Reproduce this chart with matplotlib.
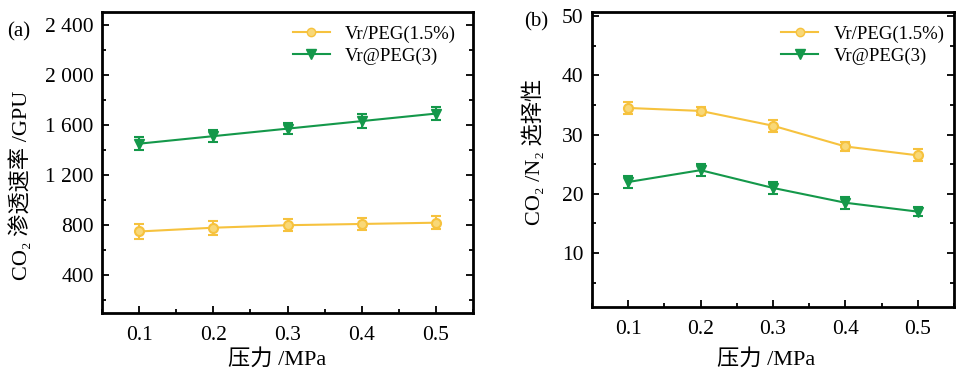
import matplotlib
matplotlib.use("Agg")
import matplotlib.pyplot as plt
from matplotlib.ticker import MultipleLocator, FuncFormatter
from matplotlib.lines import Line2D

plt.rcParams['font.family'] = ['Liberation Serif', 'Noto Sans CJK SC']

pressure = [0.1, 0.2, 0.3, 0.4, 0.5]
series_names = ['Vr/PEG(1.5%)', 'Vr@PEG(3)']

perm_peg = [750, 780, 800, 810, 820]
perm_peg_err = [60, 55, 50, 50, 50]
perm_vr3 = [1450, 1510, 1570, 1630, 1690]
perm_vr3_err = [50, 50, 45, 55, 55]

sel_peg = [34.5, 34.0, 31.5, 28.0, 26.5]
sel_peg_err = [1.0, 0.7, 1.0, 0.8, 1.0]
sel_vr3 = [22.0, 24.0, 21.0, 18.5, 17.0]
sel_vr3_err = [1.0, 1.0, 1.0, 1.0, 0.7]

c_orange = '#F6C23E'
c_orange_face = '#F9D877'
c_green = '#14984A'

fig = plt.figure(figsize=(9.56, 3.74), dpi=100)
ax1 = fig.add_axes([102/956, 1-313/374, 371/956, 301/374])
ax2 = fig.add_axes([592/956, 1-307/374, 362/956, 295/374])

def draw(ax, y1, e1, y2, e2, leg_x):
    ax.errorbar(pressure, y1, yerr=e1, color=c_orange, marker='o', ms=6.5,
                mfc=c_orange_face, mec=c_orange, mew=1.5, lw=1.5,
                capsize=3.5, capthick=1.5, elinewidth=1.5)
    ax.errorbar(pressure, y2, yerr=e2, color=c_green, marker='v', ms=7.5,
                mfc=c_green, mec=c_green, lw=1.5,
                capsize=3.5, capthick=1.5, elinewidth=1.5)
    ax.set_xlim(0.05, 0.55)
    ax.xaxis.set_major_locator(MultipleLocator(0.1))
    ax.xaxis.set_minor_locator(MultipleLocator(0.05))
    ax.xaxis.set_major_formatter(FuncFormatter(lambda v, p: f"{v:.1f}"))
    for s in ax.spines.values():
        s.set_linewidth(2.0)
    ax.tick_params(which='both', direction='in', right=True, top=False,
                   labelsize=15.5, width=1.3, pad=6)
    ax.tick_params(which='major', length=5)
    ax.tick_params(which='minor', length=3)
    ax.tick_params(axis='x', pad=9)
    ax.set_xlabel('压力 /MPa', fontsize=16)
    handles = [
        Line2D([], [], color=c_orange, marker='o', ms=6, mfc=c_orange_face,
               mec=c_orange, lw=1.5),
        Line2D([], [], color=c_green, marker='v', ms=7, mfc=c_green,
               mec=c_green, lw=1.5),
    ]
    ax.legend(handles, series_names, loc='upper right', frameon=False,
              fontsize=13.5, bbox_to_anchor=(leg_x, 1.012), handlelength=2.0,
              handletextpad=0.8, labelspacing=0.25)

draw(ax1, perm_peg, perm_peg_err, perm_vr3, perm_vr3_err, 1.0)
ax1.set_ylim(100, 2500)
ax1.yaxis.set_major_locator(MultipleLocator(400))
ax1.yaxis.set_minor_locator(MultipleLocator(200))
ax1.yaxis.set_major_formatter(FuncFormatter(lambda v, p: f"{int(v):,}".replace(',', ' ')))
ax1.set_ylabel('CO\u2082 渗透速率 /GPU', fontsize=16)
ax1.yaxis.set_label_coords(-0.189, 0.425)
ax1.xaxis.set_label_coords(0.472, -0.12)

draw(ax2, sel_peg, sel_peg_err, sel_vr3, sel_vr3_err, 1.02)
ax2.set_ylim(0.9, 50.7)
ax2.yaxis.set_major_locator(MultipleLocator(10))
ax2.yaxis.set_minor_locator(MultipleLocator(5))
ax2.yaxis.set_major_formatter(FuncFormatter(lambda v, p: f"{int(v)}"))
ax2.set_ylabel('CO\u2082 /N\u2082 选择性', fontsize=16)
ax2.yaxis.set_label_coords(-0.130, 0.525)
ax2.xaxis.set_label_coords(0.481, -0.143)

fig.text(7/956, 1-32/374, '(a)', fontsize=15, va='center', ha='left')
fig.text(524/956, 1-22/374, '(b)', fontsize=15, va='center', ha='left')

fig.savefig('out.png', dpi=100)
